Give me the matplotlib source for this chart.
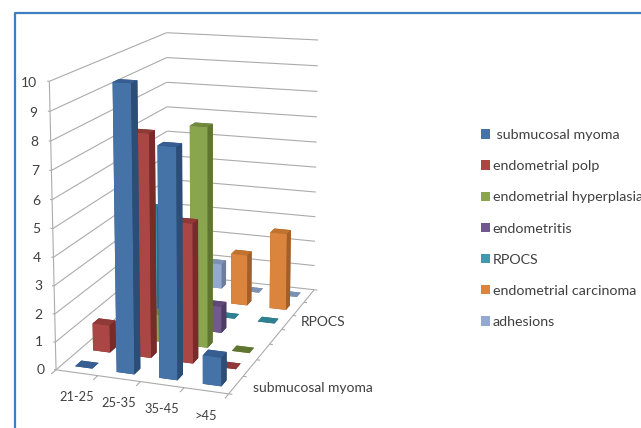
import numpy as np
import matplotlib
matplotlib.use("Agg")
import matplotlib.pyplot as plt
from matplotlib.lines import Line2D
from matplotlib.patches import Patch
from mpl_toolkits.mplot3d import Axes3D, proj3d  # noqa
from mpl_toolkits.mplot3d.art3d import Line3DCollection

plt.rcParams['font.family'] = ['Lato', 'DejaVu Sans']

age_groups = ['21-25', '25-35', '35-45', '>45']
series_names = ['submucosal myoma', 'endometrial polp', 'endometrial hyperplasia',
                'endometritis', 'RPOCS', 'endometrial carcinoma', 'adhesions']
nan = float('nan')
submucosal_myoma = [0, 10, 8, 1]
endometrial_polp = [1, 8, 5, 0]
endometrial_hyperplasia = [nan, 1, 8, 0]
endometritis = [nan, nan, 1, nan]
rpocs = [4, nan, 0, 0]
endometrial_carcinoma = [nan, nan, 2, 3]
adhesions = [nan, 1, 0, 0]
values = [submucosal_myoma, endometrial_polp, endometrial_hyperplasia, endometritis,
          rpocs, endometrial_carcinoma, adhesions]
# front, side, top shades per series
front = ['#4572A7', '#AA4643', '#89A54E', '#71588F', '#4198AF', '#DB843D', '#93A9CF']
side = ['#2C4D75', '#772C2A', '#5F7530', '#4E3D63', '#2D6A7A', '#A35F2A', '#6B7E9F']
top = ['#365E92', '#8F3A37', '#71893F', '#5E4878', '#2F8090', '#C0722F', '#7D91B5']
z_ticks = list(range(11))
y_tick_labels = {'submucosal myoma': (0.40, 0.45), 'RPOCS': (0.30, 4.65)}

# camera calibration: (x, y, z) box corners and where they sit in the 641x428 frame
world = np.array([(0, 0, 0), (4, 0, 0), (4, 7, 0), (0, 7, 0), (0, 0, 10), (0, 7, 10), (4, 7, 10)], float)
screen = np.array([(57, 368), (228, 396), (315, 287), (167, 276), (49, 81), (167, 32), (318, 41)], float)
A = []
for (X, Y, Z), (u, v) in zip(world, screen):
    A.append([X, Y, Z, 1, 0, 0, 0, 0, -u*X, -u*Y, -u*Z, -u])
    A.append([0, 0, 0, 0, X, Y, Z, 1, -v*X, -v*Y, -v*Z, -v])
P = np.linalg.svd(np.array(A))[2][-1].reshape(3, 4)
if P[2, 3] < 0:
    P = -P
M = np.array([P[0], P[1], [-0.1*P[2, 3], 0.1*P[2, 3], -0.01*P[2, 3], 0], P[2]])

fig = plt.figure(figsize=(6.41, 4.28), dpi=100)
ax = fig.add_axes([0, 0, 1, 1], projection='3d')
ax.get_proj = lambda: M
ax.apply_aspect = lambda position=None: None
ax.computed_zorder = False
ax.set_xticks([])
ax.set_yticks([])
ax.set_zticks([])
ax.set_axis_off()
ax.viewLim.intervalx = (0, 641)
ax.viewLim.intervaly = (428, 0)

GRID = '#ABABAB'
TEXT = '#404040'


def label(x, y, z, s, **kw):
    u, v, _ = proj3d.proj_transform(x, y, z, M)
    ax.text2D(float(u), float(v), s, va='center', color=TEXT, zorder=100, **kw)


nx, ny = len(age_groups), len(series_names)
segments = []
for z in z_ticks:
    segments.append([(0, 0, z), (0, ny, z)])
    segments.append([(0, ny, z), (nx, ny, z)])
    segments.append([(-0.05, 0, z), (0, 0, z)])
    label(-0.29, 0, z - 0.07, str(z), ha='right', fontsize=10)
segments.append([(0, 0, 0), (0, 0, 10)])
segments.append([(0, 0, 0), (nx, 0, 0)])
segments.append([(nx, 0, 0), (nx, ny, 0)])
for i in range(nx + 1):
    segments.append([(i, 0, 0), (i, -0.25, 0)])
for j in range(ny + 1):
    segments.append([(nx, j, 0), (nx + 0.08, j, 0)])
ax.add_collection3d(Line3DCollection(segments, colors=GRID, linewidths=0.8, zorder=1))

dx, dy = 0.42, 0.35
order = 2
for j in range(ny - 1, -1, -1):
    for i in range(nx):
        v = values[j][i]
        if np.isnan(v):
            continue
        cols = [side[j], top[j], front[j], side[j], side[j], side[j]]
        ax.bar3d(i + 0.5 - dx/2 + 0.02, j + 0.5 - dy/2, 0, dx, dy, v, color=cols, shade=False,
                 linewidth=0, zorder=order)
        order += 1

for i, lab in enumerate(age_groups):
    label(1.05 + 0.95*i, -1.2, 0, lab, ha='center', fontsize=9.3)
for lab, (xoff, ypos) in y_tick_labels.items():
    label(nx + xoff, ypos, 0, lab, ha='left', fontsize=10)

labels = [' ' + series_names[0]] + series_names[1:]
handles = [Patch(facecolor=c, edgecolor='none') for c in front]
fig.legend(handles, labels, loc='upper left', bbox_to_anchor=(481/641, 1 - 129/428),
           frameon=False, fontsize=10.3, labelcolor=TEXT, handlelength=0.63, handleheight=0.63,
           handletextpad=0.2, labelspacing=1.34, borderpad=0, borderaxespad=0)

fig.add_artist(Line2D([14.5/641, 14.5/641, 1], [0, 1 - 12.5/428, 1 - 12.5/428],
                      transform=fig.transFigure, color='#3F7FC1', lw=1.6))
fig.savefig('out.png', dpi=100)
